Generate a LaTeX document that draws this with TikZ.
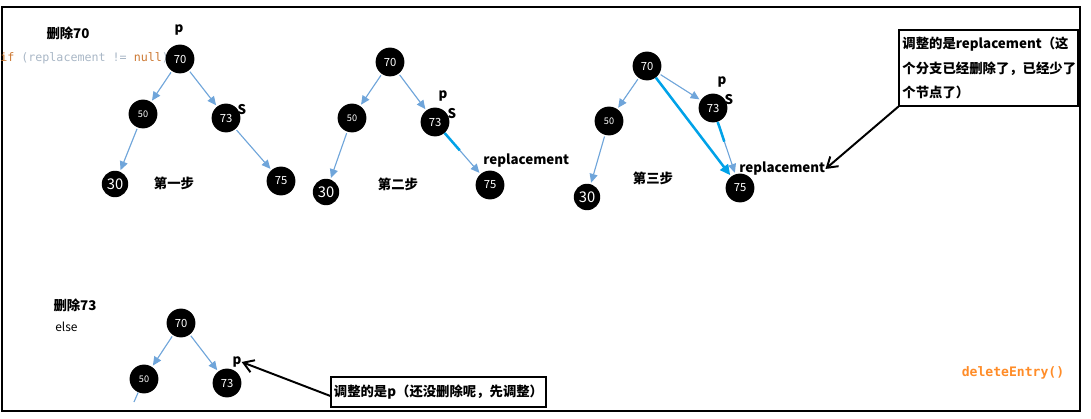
\documentclass[tikz,border=0pt]{standalone}
\usepackage{fontspec}
\setmainfont{Noto Sans CJK SC}
\setmonofont{DejaVu Sans Mono}
\usetikzlibrary{arrows.meta,calc}
\definecolor{edgeblue}{RGB}{111,165,218}
\definecolor{markcyan}{RGB}{0,162,232}
\definecolor{codeorange}{RGB}{204,120,50}
\definecolor{codegray}{RGB}{169,183,198}
\definecolor{entryorange}{RGB}{255,140,40}

\begin{document}
\begin{tikzpicture}[
  x=0.025cm,y=-0.025cm,
  vertex/.style={circle,fill=black,minimum size=7.2mm,inner sep=0pt,text=white,font=\fontsize{8}{8}\selectfont},
  small/.style={font=\fontsize{6.5}{7}\selectfont},
  leaf/.style={minimum size=6.6mm,font=\fontsize{10.5}{11}\selectfont},
  tag/.style={font=\bfseries\fontsize{9.5}{10}\selectfont,inner sep=0pt},
  edge/.style={-{Triangle[length=2.2mm,width=2mm]},draw=edgeblue,line width=0.8pt,shorten >=1pt,shorten <=1pt},
  hilite/.style={draw=markcyan,line width=1.8pt},
  note/.style={draw=black,line width=0.8pt,font=\bfseries\fontsize{9.5}{17.5}\selectfont},
  pointer/.style={-{Straight Barb[length=2.5mm,width=3.2mm]},line width=1.4pt}
]
  \useasboundingbox (0,0) rectangle (1091,419);
  \draw[line width=1.2pt] (2,7) rectangle (1080,411);

  % 删除70
  \node[tag] (title1) at (68,33) {删除70};
  \node[anchor=west,inner sep=0pt,font=\ttfamily\fontsize{8.3}{9}\selectfont] (code) at (0,58)
    {\textcolor{codeorange}{if} \textcolor{codegray}{(replacement !=} \textcolor{codeorange}{null}\textcolor{codegray}{)}};

  % 第一步
  \node[vertex] (a70) at (180,59) {70};
  \node[vertex,small] (a50) at (143,114) {50};
  \node[vertex] (a73) at (226,118) {73};
  \node[vertex,leaf] (a30) at (115,184) {30};
  \node[vertex] (a75) at (281,181) {75};
  \node[tag] (ap) at (179,30) {p};
  \node[tag] (as) at (242,110) {S};
  \node[tag] (step1) at (174,183) {第一步};
  \draw[edge] (a70) -- (a50);
  \draw[edge] (a70) -- (a73);
  \draw[edge] (a50) -- (a30);
  \draw[edge] (a73) -- (a75);

  % 第二步
  \node[vertex] (b70) at (390,62) {70};
  \node[vertex,small] (b50) at (352,118) {50};
  \node[vertex] (b73) at (435,122) {73};
  \node[vertex,leaf] (b30) at (326,192) {30};
  \node[vertex] (b75) at (490,185) {75};
  \node[tag] (bp) at (443,96) {p};
  \node[tag] (bs) at (452,114) {S};
  \node[tag,anchor=west] (brep) at (483,161) {replacement};
  \node[tag] (step2) at (398,184) {第二步};
  \draw[edge] (b70) -- (b50);
  \draw[edge] (b70) -- (b73);
  \draw[edge] (b50) -- (b30);
  \draw[edge] (b73) -- (b75);
  \draw[hilite] (b73) -- ($(b73)!0.45!(b75)$);

  % 第三步
  \node[vertex] (c70) at (647,66) {70};
  \node[vertex,small] (c50) at (609,121) {50};
  \node[vertex] (c73) at (713,108) {73};
  \node[vertex,leaf] (c30) at (587,197) {30};
  \node[vertex] (c75) at (740,188) {75};
  \node[tag] (cp) at (722,82) {p};
  \node[tag] (cs) at (729,100) {S};
  \node[tag,anchor=west] (crep) at (739,169) {replacement};
  \node[tag] (step3) at (653,178) {第三步};
  \draw[edge] (c70) -- (c50);
  \draw[edge] (c70) -- (c73);
  \draw[edge] (c50) -- (c30);
  \draw[edge] (c73) -- (c75);
  \draw[hilite] (c73) -- ($(c73)!0.42!(c75)$);
  \draw[hilite,-{Triangle[length=2.6mm,width=2.4mm]},shorten >=1pt] (c70) -- (c75);

  \node[note,text width=4.3cm,minimum width=4.475cm,minimum height=1.9cm,inner xsep=1pt,align=left] (noteA) at (988.5,68)
    {调整的是replacement（这\\个分支已经删除了，已经少了\\个节点了）};
  \draw[pointer] (noteA.south west) -- (crep.east);

  % 删除73
  \node[tag] (title2) at (75,305) {删除73};
  \node[anchor=west,inner sep=0pt,font=\fontsize{8.5}{9}\selectfont] (elsetag) at (55,327) {else};
  \node[vertex] (d70) at (181,323) {70};
  \node[vertex,small] (d50) at (144,379) {50};
  \node[vertex] (d73) at (227,383) {73};
  \node[tag] (dp) at (237,362) {p};
  \coordinate (d30) at (134,402);
  \draw[edge] (d70) -- (d50);
  \draw[edge] (d70) -- (d73);
  \draw[draw=edgeblue,line width=0.8pt] (d50) -- (d30);

  \node[note,minimum width=5.375cm,minimum height=0.75cm,inner sep=1pt] (noteB) at (438.5,392)
    {调整的是p（还没删除呢，先调整）};
  \draw[pointer] ($(noteB.west)+(0,4)$) -- (dp.east);

  \node[font=\ttfamily\bfseries\fontsize{9.3}{10}\selectfont,text=entryorange] (entry) at (1013,373) {deleteEntry()};
\end{tikzpicture}
\end{document}
